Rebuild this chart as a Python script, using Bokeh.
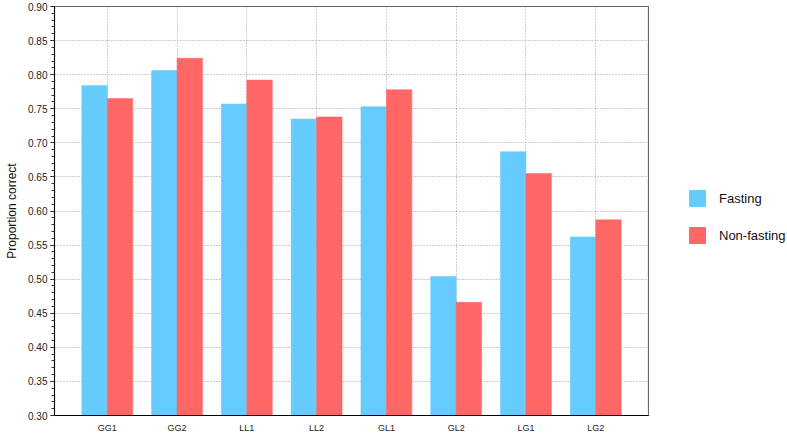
from bokeh.plotting import figure
from bokeh.layouts import row
from bokeh.models import (ColumnDataSource, FactorRange, Range1d, SingleIntervalTicker,
                          PrintfTickFormatter, Legend, LegendItem)
from bokeh.transform import dodge
from bokeh.embed import file_html
from bokeh.resources import INLINE

categories = ["GG1", "GG2", "LL1", "LL2", "GL1", "GL2", "LG1", "LG2"]
fasting = [0.784, 0.806, 0.757, 0.735, 0.753, 0.504, 0.687, 0.562]
non_fasting = [0.765, 0.824, 0.792, 0.738, 0.778, 0.466, 0.655, 0.587]
series_names = ["Fasting", "Non-fasting"]
y_label = "Proportion correct"

FONT = "Liberation Sans"
BLUE = "#66CCFF"
RED = "#FF6666"

src = ColumnDataSource(dict(cat=categories, f=fasting, nf=non_fasting))

p = figure(width=649, height=435,
           x_range=FactorRange(factors=categories, range_padding=0.064),
           y_range=Range1d(0.30, 0.90),
           output_backend="svg", toolbar_location=None,
           min_border_left=54, min_border_right=1, min_border_top=6,
           min_border_bottom=20)

p.vbar(x=dodge("cat", -0.1825, range=p.x_range), top="f", bottom=0.30, width=0.365,
       source=src, fill_color=BLUE, line_color=BLUE, line_width=0.5)
p.vbar(x=dodge("cat", 0.1825, range=p.x_range), top="nf", bottom=0.30, width=0.365,
       source=src, fill_color=RED, line_color=RED, line_width=0.5)

# y axis
yax = p.yaxis[0]
yax.ticker = SingleIntervalTicker(interval=0.05, num_minor_ticks=5)
yax.formatter = PrintfTickFormatter(format="%.2f")
yax.axis_label = y_label
yax.axis_label_text_font = FONT
yax.axis_label_text_font_size = "12px"
yax.axis_label_text_font_style = "normal"
yax.axis_label_text_color = "#111111"
yax.axis_label_standoff = 6
yax.major_label_text_font = FONT
yax.major_label_text_font_size = "10px"
yax.major_label_text_color = "#222222"
yax.major_label_standoff = 3
yax.major_tick_out = 4
yax.major_tick_in = 0
yax.minor_tick_out = 3
yax.minor_tick_in = 0
yax.axis_line_color = "black"
yax.major_tick_line_color = "black"
yax.minor_tick_line_color = "#333333"

# x axis
xax = p.xaxis[0]
xax.major_label_text_font = FONT
xax.major_label_text_font_size = "9px"
xax.major_label_text_color = "#222222"
xax.major_tick_line_color = None
xax.major_tick_out = 0
xax.major_tick_in = 0
xax.major_label_standoff = 7
xax.axis_line_color = "black"

# grids
for g in (p.xgrid[0], p.ygrid[0]):
    g.grid_line_color = "#9a9a9a"
    g.grid_line_dash = "1 2"
    g.grid_line_width = 1

p.outline_line_color = "#666666"
p.outline_line_width = 1.2
p.background_fill_color = "white"
p.border_fill_color = "white"

# legend panel (separate figure to the right); swatch renderers sit outside its view
lf = figure(width=138, height=435, x_range=Range1d(0, 1), y_range=Range1d(0, 1),
            output_backend="svg", toolbar_location=None, min_border=0)
lf.axis.visible = False
lf.grid.visible = False
lf.outline_line_color = None
lf.background_fill_color = "white"
lf.border_fill_color = "white"
d1 = lf.vbar(x=[-5], top=[-5], bottom=[-6], width=0.1, fill_color=BLUE, line_color=BLUE)
d2 = lf.vbar(x=[-5], top=[-5], bottom=[-6], width=0.1, fill_color=RED, line_color=RED)

legend = Legend(items=[LegendItem(label=series_names[0], renderers=[d1]),
                       LegendItem(label=series_names[1], renderers=[d2])],
                location=(38, 170), orientation="vertical")
legend.glyph_width = 20
legend.glyph_height = 20
legend.spacing = 17
legend.padding = 0
legend.margin = 0
legend.label_standoff = 12
legend.label_text_font = FONT
legend.label_text_font_size = "13px"
legend.label_text_color = "#111111"
legend.label_height = 20
legend.border_line_color = None
legend.background_fill_alpha = 0
lf.add_layout(legend, "center")

layout = row(p, lf)
open("out.html", "w").write(file_html(layout, INLINE))
